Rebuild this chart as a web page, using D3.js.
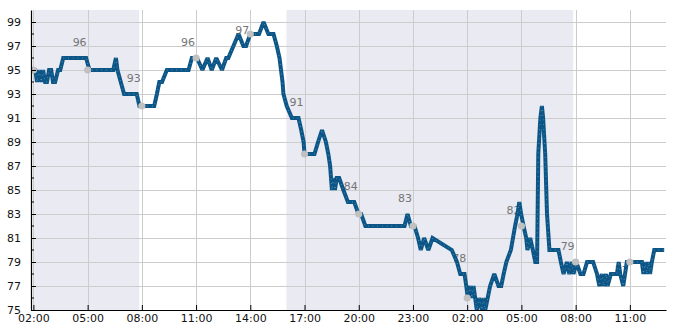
<!DOCTYPE html>
<html><head><meta charset="utf-8">
<script src="https://cdn.jsdelivr.net/npm/d3@7"></script>
<style>
html,body{margin:0;padding:0;background:#fff;}
svg{display:block;font-family:"DejaVu Sans",sans-serif;}
</style></head>
<body><svg id="c" width="685" height="330"></svg>
<script>
// ---- data (day HH:MM) ----
const times = ["01 01:53","01 02:06","01 02:12","01 02:19","01 02:26","01 02:32","01 02:39","01 02:45","01 02:52","01 02:59",
"01 03:05","01 03:12","01 03:22","01 03:29","01 03:39","01 04:55","01 05:06","01 06:25","01 06:34","01 06:39",
"01 06:50","01 07:01","01 07:43","01 07:52","01 08:41","01 08:50","01 08:58","01 09:07","01 09:23","01 10:35",
"01 10:46","01 11:03","01 11:21","01 11:38","01 11:52","01 12:07","01 12:26","01 12:40","01 12:47","01 13:04",
"01 13:21","01 13:37","01 13:46","01 14:00","01 14:29","01 14:44","01 15:00","01 15:17","01 15:28","01 15:37",
"01 15:42","01 15:47","01 15:50","01 16:01","01 16:18","01 16:40","01 16:49","01 16:57","01 17:00","01 17:33",
"01 17:45","01 17:58","01 18:11","01 18:19","01 18:25","01 18:31","01 18:35","01 18:41","01 18:47","01 18:55",
"01 19:09","01 19:24","01 19:45","01 19:59","01 20:08","01 20:22","01 22:32","01 22:42","01 22:53","01 23:05",
"01 23:17","01 23:26","01 23:37","01 23:51","02 00:05","02 01:09","02 01:26","02 01:37","02 01:51","02 01:57",
"02 02:02","02 02:10","02 02:16","02 02:21","02 02:32","02 02:39","02 02:49","02 02:54","02 03:00","02 03:16",
"02 03:30","02 03:44","02 03:53","02 04:01","02 04:10","02 04:25","02 04:32","02 04:39","02 04:47","02 04:53",
"02 04:59","02 05:07","02 05:16","02 05:20","02 05:29","02 05:38","02 05:46","02 05:52","02 05:56","02 06:03",
"02 06:08","02 06:12","02 06:19","02 06:25","02 06:33","02 07:03","02 07:11","02 07:20","02 07:31","02 07:39",
"02 07:47","02 07:53","02 08:02","02 08:16","02 08:26","02 08:38","02 08:58","02 09:11","02 09:19","02 09:27",
"02 09:33","02 09:41","02 09:46","02 09:57","02 10:17","02 10:23","02 10:28","02 10:38","02 10:50","02 11:01",
"02 11:40","02 11:45","02 11:51","02 11:56","02 12:02","02 12:07","02 12:13","02 12:21","02 12:54"];
const values = [95,95,94,95,94,95,94,94,95,95,
94,94,95,95,96,96,95,95,96,95,
94,93,93,92,92,93,94,94,95,95,
96,96,95,96,95,96,95,96,96,97,
98,97,97,98,98,99,98,98,97,96,
95,94,93,92,91,91,90,89,88,88,
89,90,89,88,87,85,86,85,86,86,
85,84,84,83,83,82,82,83,82,82,
81,80,81,80,81,80,79,78,78,77,
76,77,76,77,75,76,75,76,75,77,
78,77,77,78,79,80,81,82,83,84,
83,82,81,80,81,80,79,79,88,91,
92,91,88,83,80,80,79,78,79,78,
79,78,79,78,78,79,79,78,77,78,
77,78,77,78,78,79,78,77,79,79,
79,78,79,78,79,78,79,80,80];

const markerTimes = ["01 02:00","01 05:00","01 08:00","01 11:00","01 14:00","01 17:00","01 20:00","01 23:00","02 02:00","02 05:00","02 08:00","02 11:00"];
const markerValues = [95,95,92,96,98,88,83,82,76,82,79,79];
const markerLabels = [null,"96","93","96","97","91","84","83","78","82","79","77"];

const shadeBands = [["01 02:00","01 07:51"],["01 16:00","02 07:52"]];

const xTickTimes = ["01 02:00","01 05:00","01 08:00","01 11:00","01 14:00","01 17:00","01 20:00","01 23:00","02 02:00","02 05:00","02 08:00","02 11:00"];
const xTickLabels = ["02:00","05:00","08:00","11:00","14:00","17:00","20:00","23:00","02:00","05:00","08:00","11:00"];
const yTickValues = [75,77,79,81,83,85,87,89,91,93,95,97,99];
const yMinorValues = [76,78,80,82,84,86,88,90,92,94,96,98];
const xDomain = ["01 01:52","02 13:00"];
const yDomain = [75,100];

// ---- drawing ----
const parse = d3.timeParse("%d %H:%M");
const W = 685, H = 330;
const m = {left:31, right:19, top:10, bottom:20};
const svg = d3.select("#c");
const x = d3.scaleTime().domain(xDomain.map(parse)).range([m.left, W - m.right]);
const y = d3.scaleLinear().domain(yDomain).range([H - m.bottom, m.top]);

svg.append("defs").append("clipPath").attr("id","clip")
  .append("rect").attr("x", m.left).attr("y", m.top)
  .attr("width", W - m.left - m.right).attr("height", H - m.top - m.bottom);

// shaded bands
svg.append("g").selectAll("rect").data(shadeBands).join("rect")
  .attr("x", d => x(parse(d[0])))
  .attr("width", d => x(parse(d[1])) - x(parse(d[0])))
  .attr("y", m.top).attr("height", H - m.top - m.bottom)
  .attr("fill", "#eaeaf2");

// grid
const grid = svg.append("g").attr("stroke", "#cccccc").attr("stroke-width", 1);
grid.selectAll("line.h").data(yTickValues.filter(v => v > yDomain[0])).join("line")
  .attr("x1", m.left).attr("x2", W - m.right)
  .attr("y1", d => Math.round(y(d)) + 0.5).attr("y2", d => Math.round(y(d)) + 0.5);
grid.selectAll("line.v").data(xTickTimes).join("line")
  .attr("y1", m.top).attr("y2", H - m.bottom)
  .attr("x1", d => Math.round(x(parse(d))) + 0.5).attr("x2", d => Math.round(x(parse(d))) + 0.5);

const plot = svg.append("g").attr("clip-path", "url(#clip)");

// labels (under the line)
const mk = markerTimes.map((t, i) => ({t: parse(t), v: markerValues[i], l: markerLabels[i]}));
plot.append("g").selectAll("text").data(mk.filter(d => d.l)).join("text")
  .attr("x", d => x(d.t) - 1)
  .attr("y", d => y(+d.l + 1))
  .attr("text-anchor", "end")
  .attr("font-size", 11)
  .attr("fill", "#757575")
  .text(d => d.l);

// line
const data = times.map((t, i) => ({t: parse(t), v: values[i]}));
const line = d3.line().x(d => x(d.t)).y(d => y(d.v));
plot.append("path").datum(data)
  .attr("d", line).attr("fill", "none")
  .attr("stroke", "#0b5587").attr("stroke-width", 4)
  .attr("stroke-linejoin", "miter").attr("stroke-miterlimit", 2);
plot.append("path").datum(data)
  .attr("d", line).attr("fill", "none")
  .attr("stroke", "#ffffff").attr("stroke-width", 0.7)
  .attr("stroke-dasharray", "0.7 4").attr("opacity", 0.6);

// markers
plot.append("g").selectAll("circle").data(mk).join("circle")
  .attr("cx", d => x(d.t)).attr("cy", d => y(d.v)).attr("r", 3.6)
  .attr("fill", "#c0c0c0");

// axes
const xAxis = d3.axisBottom(x).tickValues(xTickTimes.map(parse))
  .tickFormat((d, i) => xTickLabels[i]).tickSizeInner(-5).tickSizeOuter(0).tickPadding(4);
const gx = svg.append("g").attr("transform", `translate(0,${H - m.bottom})`).call(xAxis);
gx.selectAll("text").attr("font-size", 11).attr("fill", "#111").attr("font-family", "DejaVu Sans");
gx.selectAll("line").attr("stroke", "#000");
gx.select(".domain").attr("stroke", "#000").attr("stroke-width", 1.2);

const yAxis = d3.axisLeft(y).tickValues(yTickValues)
  .tickSizeInner(-5).tickSizeOuter(0).tickPadding(10);
const gy = svg.append("g").attr("transform", `translate(${m.left},0)`).call(yAxis);
gy.selectAll("text").attr("font-size", 11).attr("fill", "#111").attr("font-family", "DejaVu Sans");
gy.selectAll("line").attr("stroke", "#000");
gy.select(".domain").attr("stroke", "#000").attr("stroke-width", 1.2);
gy.append("g").selectAll("line").data(yMinorValues).join("line")
  .attr("x1", 0).attr("x2", 3)
  .attr("y1", d => y(d)).attr("y2", d => y(d))
  .attr("stroke", "#000");
</script></body></html>
